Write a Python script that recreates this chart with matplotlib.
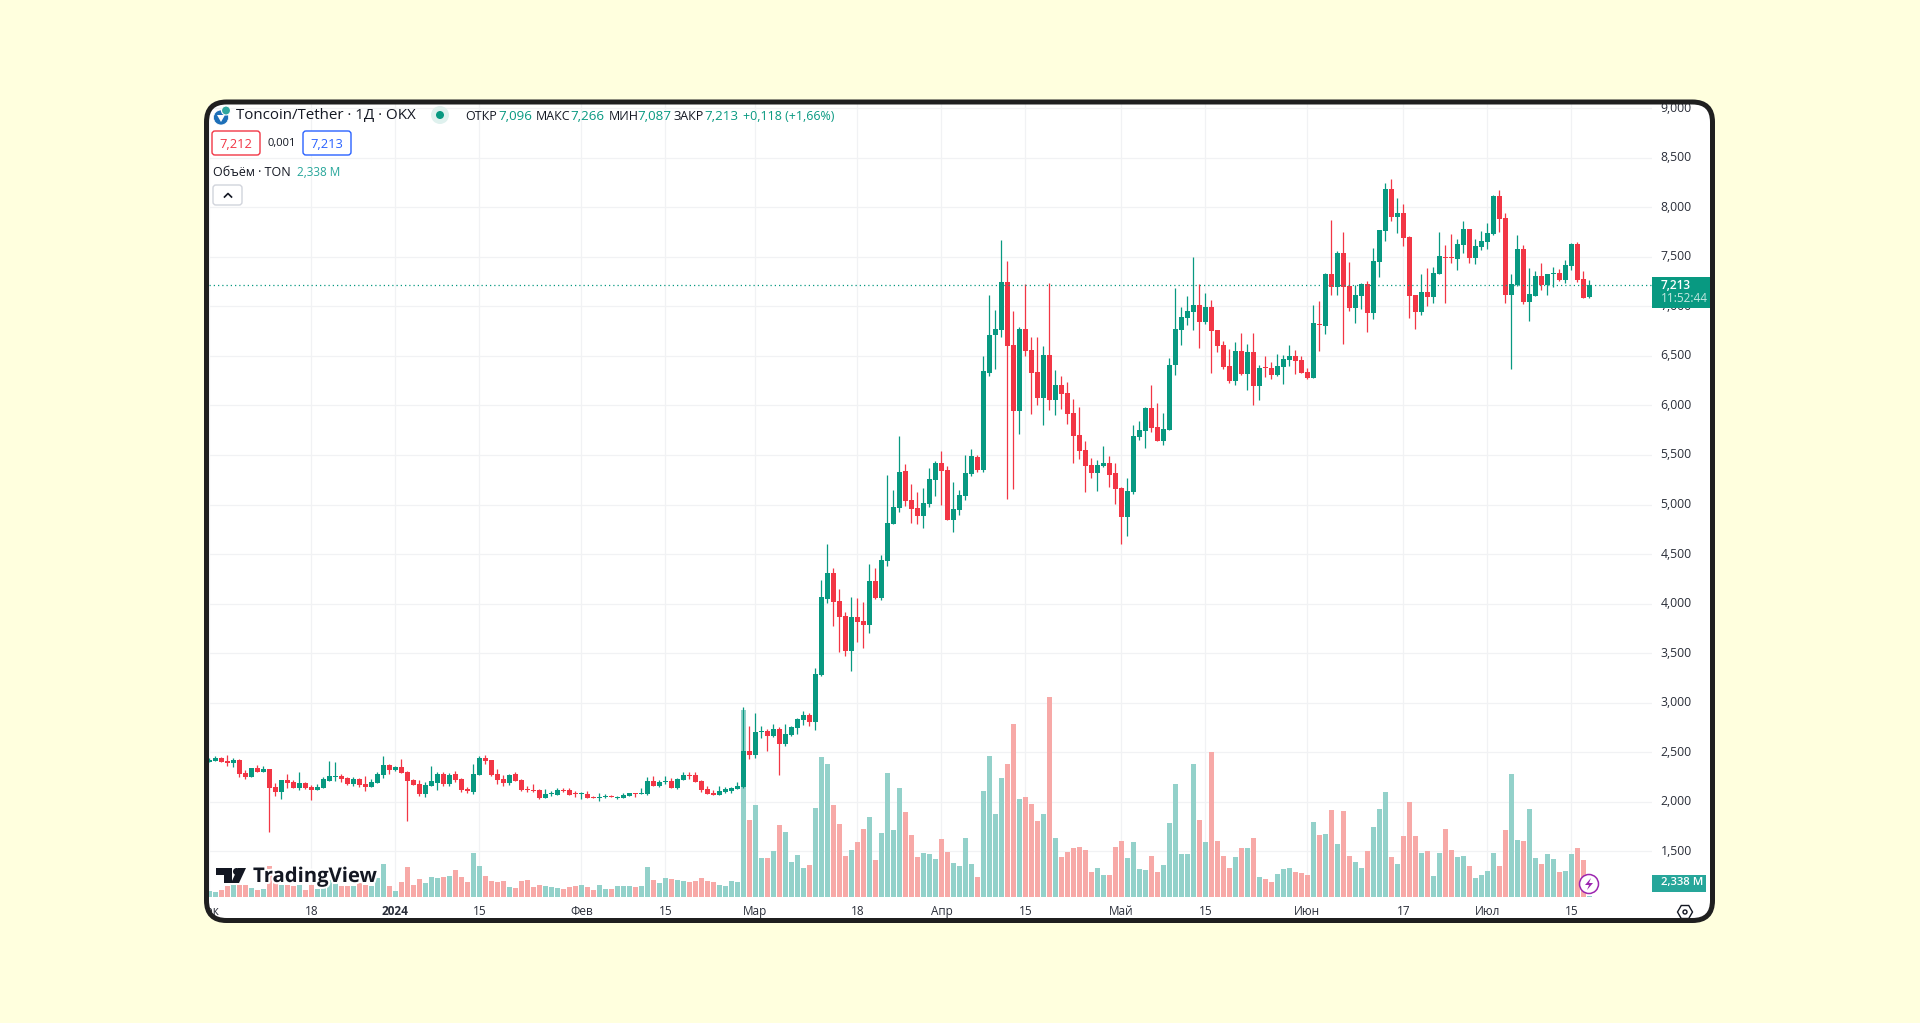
from matplotlib import pyplot as plt
from matplotlib.patches import FancyBboxPatch, Circle, Polygon, RegularPolygon
from matplotlib.transforms import Bbox, TransformedBbox
import matplotlib.dates as mdates
import matplotlib.patheffects as pe
import numpy as np
import pandas as pd

dates = pd.date_range('2023-12-01', '2024-07-18')

open_ = [
    2.401, 2.411, 2.441, 2.411, 2.391, 2.421, 2.290, 2.250, 2.340, 2.300,
    2.330, 2.149, 2.098, 2.219, 2.199, 2.139, 2.189, 2.149, 2.118, 2.139,
    2.209, 2.250, 2.260, 2.239, 2.179, 2.229, 2.179, 2.149, 2.189, 2.270,
    2.371, 2.320, 2.350, 2.300, 2.219, 2.179, 2.078, 2.159, 2.189, 2.280,
    2.179, 2.280, 2.229, 2.128, 2.098, 2.270, 2.441, 2.421, 2.280, 2.229,
    2.189, 2.280, 2.219, 2.128, 2.118, 2.118, 2.038, 2.078, 2.068, 2.118,
    2.118, 2.088, 2.078, 2.078, 2.048, 2.038, 2.048, 2.058, 2.038, 2.038,
    2.058, 2.088, 2.078, 2.078, 2.209, 2.159, 2.199, 2.209, 2.139, 2.219,
    2.270, 2.270, 2.209, 2.128, 2.088, 2.068, 2.098, 2.108, 2.128, 2.149,
    2.512, 2.472, 2.704, 2.714, 2.664, 2.735, 2.583, 2.674, 2.744, 2.825,
    2.876, 2.805, 3.279, 4.046, 4.308, 4.026, 3.874, 3.521, 3.864, 3.824,
    3.783, 4.228, 4.056, 4.430, 4.803, 4.965, 5.338, 5.045, 4.965, 4.884,
    5.005, 5.247, 5.419, 5.348, 4.843, 4.944, 5.086, 5.308, 5.479, 5.348,
    6.327, 6.711, 6.762, 7.246, 6.610, 5.944, 6.772, 6.560, 6.338, 6.075,
    6.509, 6.055, 6.206, 6.126, 5.924, 5.702, 5.550, 5.399, 5.318, 5.389,
    5.419, 5.318, 5.166, 4.874, 5.126, 5.681, 5.742, 5.974, 5.782, 5.641,
    5.752, 6.408, 6.762, 6.883, 6.943, 7.014, 6.842, 6.994, 6.762, 6.610,
    6.398, 6.247, 6.550, 6.317, 6.539, 6.196, 6.388, 6.378, 6.307, 6.388,
    6.459, 6.499, 6.459, 6.338, 6.277, 6.822, 6.802, 7.327, 7.196, 7.539,
    7.206, 6.984, 7.105, 7.226, 6.933, 7.448, 7.761, 8.185, 7.902, 7.942,
    7.700, 7.115, 6.943, 7.145, 7.095, 7.327, 7.498, 7.498, 7.478, 7.620,
    7.781, 7.488, 7.599, 7.650, 7.730, 8.114, 7.892, 7.115, 7.216, 7.579,
    7.044, 7.105, 7.306, 7.216, 7.327, 7.337, 7.266, 7.407, 7.629, 7.276, 7.096,
]
high = [
    2.441, 2.462, 2.451, 2.472, 2.441, 2.431, 2.320, 2.340, 2.371, 2.361,
    2.330, 2.189, 2.219, 2.280, 2.219, 2.300, 2.199, 2.169, 2.179, 2.250,
    2.411, 2.401, 2.280, 2.250, 2.250, 2.239, 2.260, 2.229, 2.300, 2.462,
    2.381, 2.361, 2.431, 2.310, 2.229, 2.219, 2.199, 2.361, 2.300, 2.300,
    2.290, 2.310, 2.239, 2.149, 2.381, 2.462, 2.472, 2.421, 2.330, 2.270,
    2.280, 2.300, 2.229, 2.159, 2.179, 2.128, 2.128, 2.108, 2.139, 2.139,
    2.139, 2.108, 2.098, 2.108, 2.058, 2.088, 2.078, 2.068, 2.058, 2.088,
    2.088, 2.088, 2.139, 2.250, 2.260, 2.219, 2.260, 2.239, 2.239, 2.300,
    2.300, 2.300, 2.219, 2.159, 2.118, 2.159, 2.149, 2.149, 2.199, 2.959,
    2.764, 2.899, 2.765, 2.735, 2.785, 2.755, 2.785, 2.765, 2.845, 2.916,
    2.896, 3.349, 4.238, 4.601, 4.359, 4.147, 3.915, 4.066, 4.056, 4.016,
    4.399, 4.359, 4.490, 5.298, 5.146, 5.691, 5.409, 5.207, 5.126, 5.167,
    5.368, 5.439, 5.540, 5.389, 5.227, 5.146, 5.500, 5.560, 5.500, 6.499,
    7.115, 6.963, 7.670, 7.458, 6.953, 6.792, 7.226, 6.691, 6.691, 6.600,
    7.236, 6.358, 6.297, 6.237, 6.065, 5.984, 5.641, 5.469, 5.449, 5.590,
    5.490, 5.419, 5.177, 5.267, 5.803, 5.843, 5.984, 6.206, 6.025, 5.924,
    6.479, 7.186, 6.994, 7.105, 7.498, 7.226, 7.135, 7.064, 6.762, 6.651,
    6.570, 6.640, 6.731, 6.620, 6.731, 6.408, 6.499, 6.438, 6.519, 6.509,
    6.610, 6.560, 6.499, 6.378, 7.014, 7.054, 7.337, 7.872, 7.559, 7.751,
    7.448, 7.216, 7.236, 7.256, 7.589, 7.771, 8.245, 8.286, 8.094, 8.033,
    7.710, 7.115, 7.327, 7.387, 7.398, 7.751, 7.620, 7.731, 7.680, 7.862,
    7.781, 7.680, 7.761, 7.842, 8.124, 8.175, 7.942, 7.327, 7.720, 7.619,
    7.387, 7.357, 7.438, 7.327, 7.397, 7.377, 7.468, 7.640, 7.650, 7.357, 7.266,
]
low = [
    2.401, 2.411, 2.401, 2.361, 2.350, 2.250, 2.229, 2.250, 2.300, 2.300,
    1.694, 2.058, 2.027, 2.139, 2.139, 2.118, 2.128, 2.017, 2.118, 2.139,
    2.209, 2.209, 2.199, 2.169, 2.159, 2.149, 2.108, 2.149, 2.189, 2.239,
    2.280, 2.310, 2.290, 1.805, 2.169, 2.058, 2.048, 2.159, 2.118, 2.159,
    2.159, 2.199, 2.098, 2.088, 2.078, 2.270, 2.381, 2.260, 2.179, 2.159,
    2.169, 2.209, 2.108, 2.098, 2.098, 2.027, 2.038, 2.058, 2.068, 2.098,
    2.068, 2.048, 2.027, 2.038, 2.038, 2.007, 2.038, 2.048, 2.027, 2.038,
    2.058, 2.048, 2.078, 2.068, 2.159, 2.149, 2.179, 2.139, 2.128, 2.219,
    2.229, 2.199, 2.098, 2.078, 2.068, 2.068, 2.088, 2.088, 2.128, 2.139,
    2.431, 2.441, 2.644, 2.512, 2.654, 2.270, 2.563, 2.664, 2.684, 2.775,
    2.765, 2.724, 3.269, 4.006, 3.773, 3.511, 3.470, 3.319, 3.612, 3.551,
    3.703, 4.046, 4.036, 4.379, 4.803, 4.924, 4.985, 4.813, 4.803, 4.763,
    4.975, 5.086, 4.995, 4.843, 4.722, 4.894, 5.045, 5.288, 5.328, 5.328,
    6.297, 6.368, 6.691, 5.056, 5.156, 5.712, 6.499, 5.914, 6.004, 5.803,
    5.954, 5.903, 5.964, 5.813, 5.419, 5.459, 5.126, 5.267, 5.136, 5.379,
    5.177, 5.005, 4.601, 4.682, 5.106, 5.651, 5.570, 5.732, 5.641, 5.601,
    5.752, 6.307, 6.610, 6.812, 6.762, 6.580, 6.822, 6.327, 6.539, 6.368,
    6.227, 6.206, 6.307, 6.156, 6.004, 6.055, 6.287, 6.267, 6.297, 6.216,
    6.398, 6.317, 6.327, 6.267, 6.277, 6.550, 6.721, 7.115, 7.115, 6.620,
    6.953, 6.832, 6.974, 6.741, 6.873, 7.296, 7.660, 7.862, 7.741, 7.609,
    6.883, 6.772, 6.913, 7.004, 7.034, 7.327, 7.034, 7.438, 7.367, 7.539,
    7.438, 7.428, 7.569, 7.579, 7.720, 7.751, 7.034, 6.368, 7.205, 7.024,
    6.852, 7.105, 7.165, 7.115, 7.195, 7.256, 7.236, 7.367, 7.246, 7.084, 7.087,
]
close = [
    2.421, 2.441, 2.401, 2.391, 2.421, 2.280, 2.250, 2.340, 2.300, 2.330,
    2.139, 2.098, 2.219, 2.189, 2.139, 2.189, 2.139, 2.118, 2.149, 2.229,
    2.260, 2.260, 2.229, 2.179, 2.229, 2.169, 2.149, 2.199, 2.280, 2.371,
    2.320, 2.350, 2.290, 2.209, 2.169, 2.078, 2.169, 2.209, 2.280, 2.179,
    2.270, 2.219, 2.118, 2.108, 2.280, 2.441, 2.411, 2.270, 2.219, 2.189,
    2.270, 2.209, 2.118, 2.118, 2.108, 2.038, 2.078, 2.088, 2.118, 2.108,
    2.068, 2.078, 2.081, 2.038, 2.038, 2.048, 2.058, 2.048, 2.048, 2.068,
    2.088, 2.078, 2.088, 2.209, 2.159, 2.199, 2.209, 2.139, 2.229, 2.270,
    2.260, 2.199, 2.118, 2.078, 2.068, 2.108, 2.128, 2.139, 2.159, 2.512,
    2.472, 2.704, 2.714, 2.664, 2.735, 2.583, 2.684, 2.755, 2.835, 2.876,
    2.805, 3.289, 4.066, 4.308, 4.016, 3.864, 3.521, 3.864, 3.814, 3.783,
    4.228, 4.056, 4.440, 4.813, 4.975, 5.328, 5.035, 4.955, 4.884, 5.015,
    5.257, 5.419, 5.338, 4.843, 4.955, 5.096, 5.318, 5.490, 5.348, 6.348,
    6.711, 6.772, 7.246, 6.600, 5.944, 6.772, 6.550, 6.327, 6.075, 6.509,
    6.055, 6.206, 6.115, 5.914, 5.691, 5.540, 5.389, 5.318, 5.399, 5.419,
    5.298, 5.156, 4.874, 5.136, 5.691, 5.752, 5.974, 5.772, 5.641, 5.762,
    6.408, 6.772, 6.893, 6.953, 7.014, 6.842, 6.994, 6.751, 6.600, 6.388,
    6.247, 6.550, 6.317, 6.539, 6.196, 6.378, 6.378, 6.307, 6.398, 6.469,
    6.499, 6.449, 6.327, 6.277, 6.832, 6.812, 7.327, 7.196, 7.539, 7.196,
    6.984, 7.115, 7.226, 6.933, 7.458, 7.771, 8.185, 7.902, 7.942, 7.690,
    7.105, 6.943, 7.145, 7.095, 7.337, 7.509, 7.488, 7.488, 7.630, 7.781,
    7.488, 7.610, 7.660, 7.741, 8.114, 7.882, 7.115, 7.226, 7.579, 7.044,
    7.125, 7.306, 7.216, 7.327, 7.337, 7.266, 7.417, 7.629, 7.266, 7.084, 7.213,
]
# volume in millions of TON, the scale is a guess from the last bar (2,338 M)
volume = [
    17, 14, 20, 32, 35, 35, 35, 26, 20, 23,
    92, 47, 35, 35, 32, 35, 20, 35, 24, 35,
    50, 50, 32, 32, 32, 41, 35, 32, 56, 98,
    32, 17, 44, 89, 35, 53, 41, 59, 56, 59,
    62, 80, 59, 44, 131, 92, 62, 47, 44, 47,
    29, 26, 47, 50, 29, 35, 32, 29, 26, 23,
    29, 32, 35, 29, 20, 35, 23, 23, 32, 32,
    32, 29, 32, 89, 50, 41, 56, 53, 50, 47,
    44, 47, 56, 47, 44, 35, 32, 47, 44, 560,
    230, 275, 116, 116, 137, 215, 194, 104, 125, 86,
    95, 266, 419, 398, 275, 218, 122, 140, 164, 203,
    239, 110, 191, 371, 200, 326, 254, 185, 119, 131,
    128, 113, 173, 134, 101, 92, 176, 98, 59, 317,
    422, 248, 356, 398, 518, 293, 299, 278, 227, 248,
    599, 176, 119, 134, 146, 149, 140, 74, 86, 65,
    65, 149, 167, 116, 164, 83, 80, 122, 74, 95,
    221, 338, 128, 128, 398, 230, 164, 434, 167, 122,
    86, 119, 146, 146, 176, 59, 53, 44, 68, 83,
    86, 74, 71, 65, 224, 185, 188, 260, 158, 257,
    122, 104, 86, 137, 209, 263, 314, 119, 98, 182,
    284, 182, 131, 137, 62, 131, 203, 140, 119, 122,
    92, 56, 65, 77, 131, 92, 200, 368, 170, 167,
    263, 116, 98, 128, 113, 74, 77, 128, 146, 110, 2.338,
]
price_ticks = [1.5, 2.0, 2.5, 3.0, 3.5, 4.0, 4.5, 5.0, 5.5, 6.0, 6.5, 7.0, 7.5, 8.0, 8.5, 9.0]
time_ticks = ['2023-12-01', '2023-12-18', '2024-01-01', '2024-01-15', '2024-02-01', '2024-02-15',
              '2024-03-01', '2024-03-18', '2024-04-01', '2024-04-15', '2024-05-01', '2024-05-15',
              '2024-06-01', '2024-06-17', '2024-07-01', '2024-07-15']
time_labels = ['Дек', '18', '2024', '15', 'Фев', '15', 'Мар', '18', 'Апр', '15', 'Май', '15',
               'Июн', '17', 'Июл', '15']
last_close = 7.213

GREEN = '#089981'
RED = '#F23645'
TEAL = '#26A69A'
GRID = '#F1F2F4'
INK = '#131722'
W, H = 1920, 1023
plt.rcParams['font.family'] = ['Open Sans', 'DejaVu Sans']

fig = plt.figure(figsize=(W / 100, H / 100), dpi=100, facecolor='#FFFFDE')

# px overlay for the card, texts and icons
bg = fig.add_axes([0, 0, 1, 1], zorder=0)
bg.set_xlim(0, W), bg.set_ylim(H, 0), bg.axis('off')
card = FancyBboxPatch((206.5 + 20, 102 + 20), 1506 - 40, 818.5 - 40, boxstyle='round,pad=20,rounding_size=20',
                      fc='white', ec='none')
bg.add_patch(card)

# price chart, axes box in px
left, right, top, bottom = 209, 1652, 104, 897
x_per_px = 1 / 6
x0 = mdates.date2num(pd.Timestamp('2024-01-01')) + (left - 395.4) * x_per_px
x1 = x0 + (right - left) * x_per_px
y_of = lambda p: 8 - (p - 207.3) / 99.07

ax = fig.add_axes([left / W, 1 - bottom / H, (right - left) / W, (bottom - top) / H], zorder=1)
ax.patch.set_alpha(0)
ax.set_xlim(x0, x1)
ax.set_ylim(y_of(bottom), y_of(top))
for s in ax.spines.values():
    s.set_visible(False)
ax.set_xticks([mdates.date2num(pd.Timestamp(t)) for t in time_ticks])
ax.set_yticks(price_ticks)
ax.tick_params(length=0, labelbottom=False, labelleft=False)
ax.grid(True, color=GRID, lw=0.9)
ax.set_axisbelow(True)

x = mdates.date2num(dates)
o, h, l, c = map(np.array, (open_, high, low, close))
up = c >= o
colors = np.where(up, GREEN, RED)
vol_colors = np.where(up, '#93D1CA', '#F7A9A7')

# volume on its own scale, 3 M per pixel
vax = ax.twinx()
vax.patch.set_alpha(0)
vax.set_ylim(0, (bottom - top) * 3)
vax.axis('off')
vax.bar(x, volume, width=5 / 6, color=vol_colors, zorder=1)

# candles go over volume
cax = ax.twinx()
cax.patch.set_alpha(0)
cax.set_ylim(ax.get_ylim())
cax.axis('off')
cax.vlines(x, l, h, colors=colors, lw=0.9, zorder=2)
cax.bar(x, np.maximum(np.abs(c - o), 0.011), bottom=np.minimum(o, c), width=5 / 6, color=colors, zorder=3)
cax.axhline(last_close, color=GREEN, lw=0.9, ls=(0, (1, 2.4)), zorder=4)

# texts and icons on top
ov = fig.add_axes([0, 0, 1, 1], zorder=2)
ov.set_xlim(0, W), ov.set_ylim(H, 0), ov.axis('off')
ov.patch.set_alpha(0)

def txt(px, py, s, size=8.3, color=INK, ha='left', **kw):
    return ov.text(px, py, s, fontsize=size, color=color, ha=ha, va='center', **kw)

for v in price_ticks:
    txt(1676, 207.3 + (8 - v) * 99.07, f'{v:.3f}'.replace('.', ','), size=8.8, color='#2A2E39', ha='center')
inner = TransformedBbox(Bbox([[209, 0], [1712, H]]), ov.transData)
for t, s in zip(time_ticks, time_labels):
    px = 395.4 + 6 * (pd.Timestamp(t) - pd.Timestamp('2024-01-01')).days
    label = txt(px, 911.5, s, size=8.5, color='#2A2E39', ha='center', weight='bold' if s == '2024' else 'normal')
    label.set_clip_box(inner)
    label.set_clip_on(True)

# TradingView mark, white halo as in the widget
ov.add_patch(Polygon([(216, 868), (232, 868), (232, 883), (224, 883), (224, 875), (216, 875)], fc=INK, ec='none'))
ov.add_patch(Circle((236.5, 871.5), 3.5, fc=INK, ec='none'))
ov.add_patch(Polygon([(238, 868), (246, 868), (239, 883), (231, 883)], fc=INK, ec='none'))
txt(253, 877, 'TradingView', size=14.6, weight='bold',
    path_effects=[pe.withStroke(linewidth=3, foreground='white')])

# header
ov.add_patch(Circle((221, 117.5), 7.5, fc='#1D6FB8', ec='white', lw=0.5))
ov.add_patch(Circle((226, 110.5), 4.5, fc='#2FA7A0', ec='white', lw=0.8))
ov.add_patch(Polygon([(217, 115), (225, 115), (221, 122)], fc='white', ec='none'))
txt(236, 116, 'Toncoin/Tether · 1Д · OKX', size=10.9)
ov.add_patch(Circle((440, 115), 9, fc='#DFF1EE', ec='none'))
ov.add_patch(Circle((440, 115), 4, fc=GREEN, ec='none'))
legend = [(465, 'ОТКР', INK), (498, '7,096', GREEN), (536, 'МАКС', INK), (570, '7,266', GREEN),
          (609, 'МИН', INK), (637, '7,087', GREEN), (674, 'ЗАКР', INK), (704, '7,213', GREEN),
          (743, '+0,118 (+1,66%)', GREEN)]
for px, s, col in legend:
    size = 9.6 if s[0].isdigit() else 8.9 if s[0] == '+' else 9.0
    txt(px, 116, s, size=size, color=col)

for bx, s, col in [(212, '7,212', RED), (303, '7,213', '#2962FF')]:
    ov.add_patch(FancyBboxPatch((bx + 3, 134), 42, 18, boxstyle='round,pad=3,rounding_size=3', fc='white', ec=col, lw=1))
    txt(bx + 24, 144, s, size=9.3, color=col, ha='center')
txt(281.5, 143.5, '0,001', size=8, ha='center')
txt(213, 172.5, 'Объём · TON', size=9)
txt(297, 172.5, '2,338 M', size=8.5, color=TEAL)
ov.add_patch(FancyBboxPatch((216, 188), 23, 14, boxstyle='round,pad=3,rounding_size=3', fc='white', ec='#D1D4DC', lw=1))
ov.plot([224.5, 228, 231.5], [197, 193.5, 197], color=INK, lw=1.2)

# last value boxes on the price scale
ov.add_patch(plt.Rectangle((1652, 277), 58, 30.5, fc=GREEN, ec='none', zorder=5))
txt(1661, 285.5, '7,213', size=8.6, color='white', weight='semibold', zorder=6)
txt(1661, 299, '11:52:44', size=8.5, color='#C5E8E1', zorder=6)
ov.add_patch(plt.Rectangle((1652, 875), 54, 17, fc=TEAL, ec='none', zorder=5))
txt(1661, 883, '2,338 M', size=8.2, color='white', weight='semibold', zorder=6)

# replay bolt and settings icons
ov.add_patch(Circle((1589, 884), 9.5, fc='white', ec='#9C27B0', lw=1.1, zorder=5))
ov.add_patch(Polygon([(1591, 878), (1585, 885), (1589, 885), (1587, 890), (1593, 883), (1589, 883)],
                     fc='#9C27B0', ec='none', zorder=6))
ov.add_patch(RegularPolygon((1685, 912), 6, radius=7.5, orientation=np.pi / 6, fc='white', ec=INK, lw=1))
ov.add_patch(Circle((1685, 912), 2, fc='white', ec=INK, lw=1))

# dark frame goes last
ov.add_patch(FancyBboxPatch((206.5 + 20, 102 + 20), 1506 - 40, 818.5 - 40, boxstyle='round,pad=20,rounding_size=20',
                            fc='none', ec='#1F1F1F', lw=3.6, zorder=10))

fig.savefig('out.png', dpi=100, facecolor=fig.get_facecolor())
